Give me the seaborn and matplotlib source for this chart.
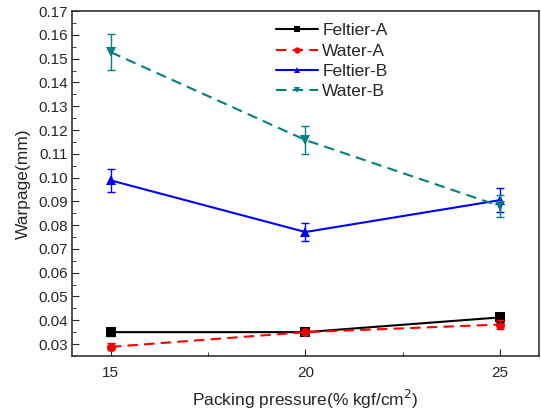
import seaborn as sns
import pandas as pd
import matplotlib.pyplot as plt
from matplotlib.ticker import MultipleLocator

# Packing pressure levels
pressure = [15, 20, 25]

# Mean warpage (mm) and error for each condition
feltier_a = [0.035, 0.035, 0.0412]
feltier_a_err = [0.0018, 0.0012, 0.0018]
water_a = [0.0288, 0.0350, 0.0382]
water_a_err = [0.0015, 0.0012, 0.0018]
feltier_b = [0.0988, 0.0771, 0.0905]
feltier_b_err = [0.0048, 0.0037, 0.0050]
water_b = [0.1527, 0.1158, 0.0880]
water_b_err = [0.0076, 0.0058, 0.0045]

series = {
    "Feltier-A": (feltier_a, feltier_a_err),
    "Water-A": (water_a, water_a_err),
    "Feltier-B": (feltier_b, feltier_b_err),
    "Water-B": (water_b, water_b_err),
}
colors = {"Feltier-A": "black", "Water-A": "#ff0000",
          "Feltier-B": "#0000ff", "Water-B": "#008080"}
markers = {"Feltier-A": "s", "Water-A": "o", "Feltier-B": "^", "Water-B": "v"}
dashes = {"Feltier-A": "", "Water-A": (5, 3), "Feltier-B": "", "Water-B": (5, 3)}

rows = []
for name, (vals, errs) in series.items():
    for p, v, e in zip(pressure, vals, errs):
        rows.append({"Pressure": p, "Warpage": v, "Err": e, "Series": name})
df = pd.DataFrame(rows)

sns.set_style("ticks")
plt.rcParams["font.family"] = ["Liberation Sans", "DejaVu Sans"]

fig = plt.figure(figsize=(5.41, 4.11), dpi=100)
ax = fig.add_axes([0.133, 0.134, 0.863, 0.839])

sns.lineplot(data=df, x="Pressure", y="Warpage", hue="Series", style="Series",
             palette=colors, markers=markers, dashes=dashes, markersize=6.5,
             markeredgewidth=0, linewidth=1.5, ax=ax)

for name in series:
    sub = df[df["Series"] == name]
    ax.errorbar(sub["Pressure"], sub["Warpage"], yerr=sub["Err"], fmt="none",
                ecolor=colors[name], elinewidth=1, capsize=3, capthick=1)

ax.set_xlim(14, 26)
ax.set_ylim(0.025, 0.17)
ax.set_xticks(pressure)
ax.xaxis.set_minor_locator(MultipleLocator(2.5))
ax.yaxis.set_major_locator(MultipleLocator(0.01))
ax.yaxis.set_minor_locator(MultipleLocator(0.005))
ax.yaxis.set_major_formatter(plt.FormatStrFormatter("%.2f"))
ax.tick_params(which="both", direction="in", top=False, right=False, labelsize=11)
ax.tick_params(axis="x", pad=7)
ax.tick_params(axis="y", pad=3)
ax.tick_params(which="major", length=5)
ax.tick_params(which="minor", length=3)
for sp in ax.spines.values():
    sp.set_linewidth(1.2)
    sp.set_color("#333333")

ax.set_xlabel("Packing pressure(% kgf/cm$^2$)", fontsize=12.5, labelpad=6)
ax.set_ylabel("Warpage(mm)", fontsize=12.5, labelpad=5)

ax.legend(loc="upper left", bbox_to_anchor=(0.415, 0.995), frameon=False,
          fontsize=12.5, handlelength=2.4, handletextpad=0.25, labelspacing=0.3,
          borderaxespad=0.2, markerscale=0.7)

fig.savefig("out.png", dpi=100)
